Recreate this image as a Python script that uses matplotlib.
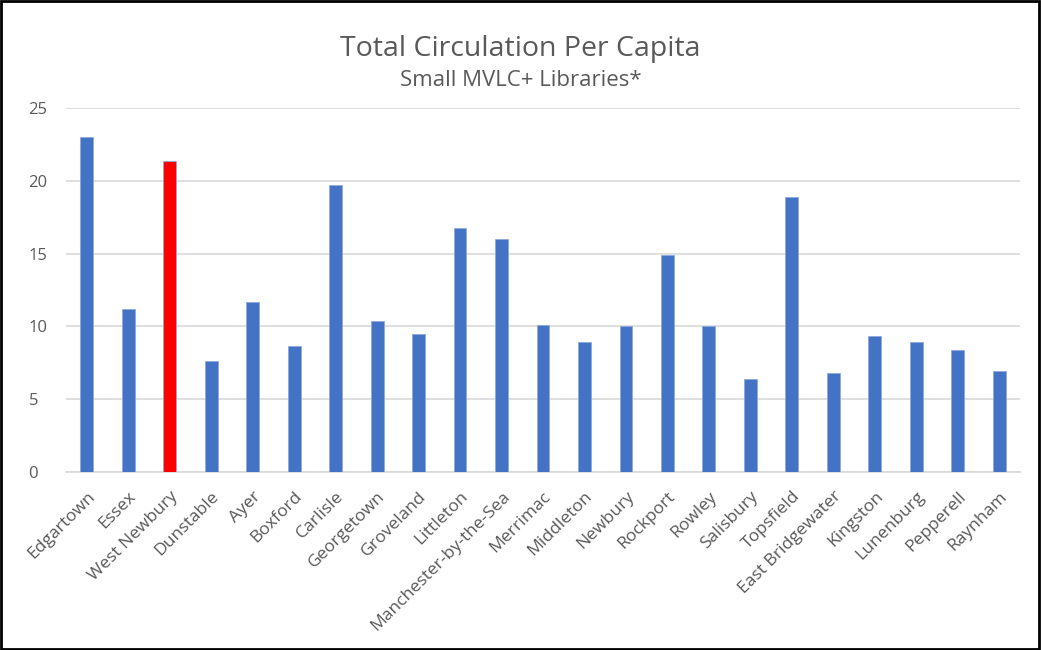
import matplotlib.pyplot as plt
from matplotlib.patches import Rectangle

# libraries and their circulation per capita
libraries = ["Edgartown", "Essex", "West Newbury", "Dunstable", "Ayer", "Boxford",
             "Carlisle", "Georgetown", "Groveland", "Littleton", "Manchester-by-the-Sea",
             "Merrimac", "Middleton", "Newbury", "Rockport", "Rowley", "Salisbury",
             "Topsfield", "East Bridgewater", "Kingston", "Lunenburg", "Pepperell", "Raynham"]
circ_per_capita = [23.05, 11.2, 21.4, 7.6, 11.7, 8.65,
                   19.7, 10.4, 9.5, 16.75, 16.0,
                   10.1, 8.95, 10.0, 14.9, 10.0, 6.35,
                   18.9, 6.8, 9.35, 8.9, 8.35, 6.95]
highlight = "West Newbury"
yticks = [0, 5, 10, 15, 20, 25]

plt.rcParams['font.family'] = ['Open Sans', 'DejaVu Sans']

fig = plt.figure(figsize=(10.41, 6.5), dpi=100)
ax = fig.add_axes([66 / 1041, 1 - 471.7 / 650, 954 / 1041, 363.4 / 650])

colors = ["#FF0000" if n == highlight else "#4472C4" for n in libraries]
x = range(len(libraries))
ax.bar(x, circ_per_capita, width=0.31, color=colors, edgecolor="#8FAADC",
       linewidth=0.6, zorder=3)

ax.set_xlim(-0.5, len(libraries) - 0.5)
ax.set_ylim(0, 25)
ax.set_yticks(yticks)
ax.set_xticks(list(x))
ax.set_xticklabels(libraries, rotation=45, ha="right", rotation_mode="anchor")
ax.tick_params(axis="x", length=0, labelsize=12.6, colors="#595959", pad=12)
ax.tick_params(axis="y", length=0, labelsize=12, colors="#595959", pad=27)
for lbl in ax.get_yticklabels():
    lbl.set_horizontalalignment("left")

ax.grid(axis="y", color="#D9D9D9", linewidth=1.2, zorder=0)
for side in ["top", "right", "left"]:
    ax.spines[side].set_visible(False)
ax.spines["bottom"].set_color("#D9D9D9")
ax.spines["bottom"].set_linewidth(1.2)

fig.text(0.5, 1 - 49 / 650, "Total Circulation Per Capita", ha="center", va="center",
         fontsize=20.5, color="#595959")
fig.text(0.5, 1 - 81 / 650, "Small MVLC+ Libraries*", ha="center", va="center",
         fontsize=16, color="#595959")

# outer frame
fig.patches.append(Rectangle((0.001, 0.002), 0.997, 0.996, transform=fig.transFigure,
                             fill=False, edgecolor="black", linewidth=2))

fig.savefig("out.png", dpi=100)
